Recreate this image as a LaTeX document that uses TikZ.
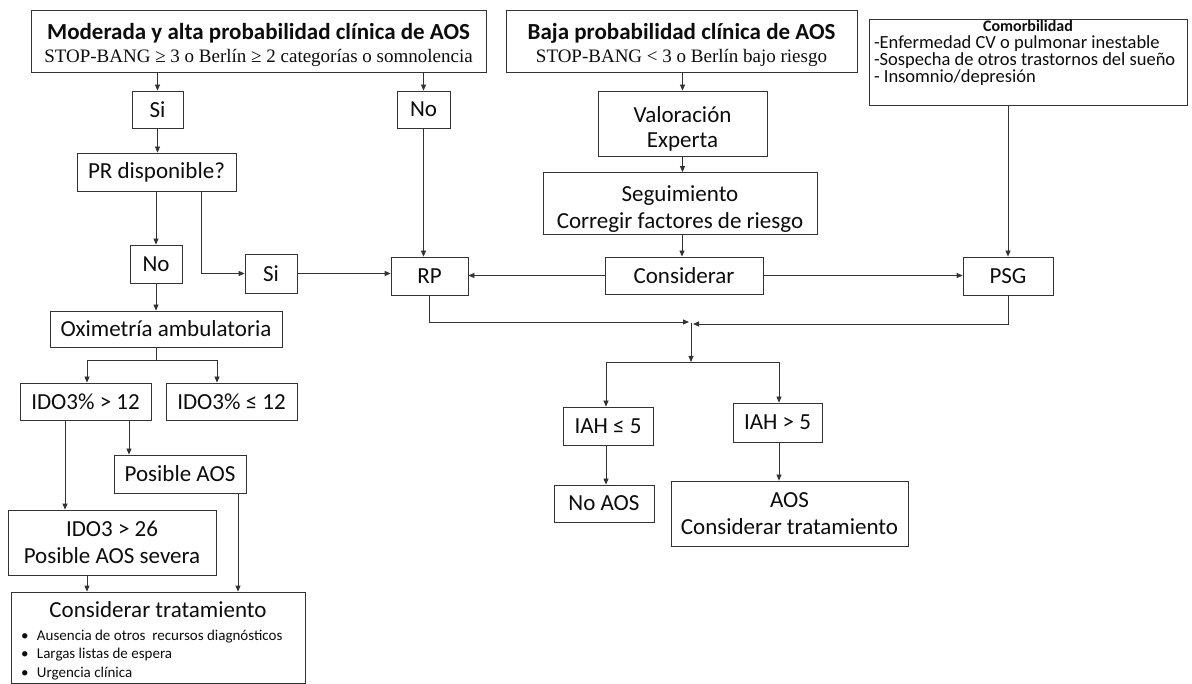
\documentclass[tikz,border=0pt]{standalone}
\usepackage{fontspec}
\setmainfont{Carlito}
\newfontfamily\tnr{Liberation Serif}
\usetikzlibrary{arrows.meta}
\tikzset{
  box/.style={draw=black!80, line width=0.8pt, inner sep=2pt, align=center,
    font=\fontsize{23}{27}\selectfont, text=black!95},
  conn/.style={draw=black!80, line width=0.8pt},
  arr/.style={conn, -{Triangle[length=6pt,width=5pt]}},
}
\newcommand{\pushdown}[1]{\rule{0pt}{#1}}
\begin{document}
\begin{tikzpicture}[x=1pt,y=-1pt]
\useasboundingbox[fill=white] (0,0) rectangle (1192,684);

% top row
\node[box, minimum width=455pt, minimum height=62pt] (mod) at (258.5,41)
  {\pushdown{25pt}{\bfseries Moderada y alta probabilidad clínica de AOS}\\[-4pt]
   {\tnr\fontsize{19}{22}\selectfont STOP-BANG ≥ 3 o Berlín ≥ 2 categorías o somnolencia}};
\node[box, minimum width=351pt, minimum height=62pt] (baja) at (681.5,41)
  {\pushdown{25pt}{\bfseries Baja probabilidad clínica de AOS}\\[-4pt]
   {\tnr\fontsize{19}{22}\selectfont STOP-BANG < 3 o Berlín bajo riesgo}};
\node[box, minimum width=318pt, minimum height=86pt, inner sep=0pt] (comor) at (1028,62)
  {\parbox[c][84pt][t]{308pt}{\centering{\bfseries\fontsize{16}{17}\selectfont Comorbilidad}\par
   \raggedright\fontsize{18.5}{17}\selectfont -Enfermedad CV o pulmonar inestable\\
   -Sospecha de otros trastornos del sueño\\
   - Insomnio/depresión}};

% left branch
\node[box, minimum width=51pt, minimum height=37pt] (si1) at (157.5,109.5) {Si};
\node[box, minimum width=53pt, minimum height=37pt] (no1) at (423.5,109.5) {No};
\node[box, minimum width=159pt, minimum height=38pt] (pr) at (156.5,172) {PR disponible?};
\node[box, minimum width=52pt, minimum height=38pt] (no2) at (156,264) {No};
\node[box, minimum width=52pt, minimum height=39pt] (si2) at (271,273.5) {Si};
\node[box, minimum width=232pt, minimum height=36pt] (oxi) at (166,329) {Oximetría ambulatoria};
\node[box, minimum width=131pt, minimum height=37pt] (ido1) at (85.5,401.5) {IDO3\% > 12};
\node[box, minimum width=131pt, minimum height=37pt] (ido2) at (231.5,401.5) {IDO3\% ≤ 12};
\node[box, minimum width=132pt, minimum height=38pt] (posaos) at (180,474) {Posible AOS};
\node[box, minimum width=208pt, minimum height=65pt] (ido3) at (112,542.5)
  {IDO3 > 26\\Posible AOS severa};
\node[box, minimum width=294pt, minimum height=91pt, inner sep=0pt] (ctrat) at (158,637.5)
  {\parbox[c][87pt][t]{282pt}{\vspace*{8pt}\centering{\fontsize{23}{24}\selectfont Considerar tratamiento}\par
   \vspace{4pt}\raggedright\fontsize{15}{18.5}\selectfont
   \makebox[20pt][l]{\hspace{4pt}•}Ausencia de otros\ \ recursos diagnósticos\\
   \makebox[20pt][l]{\hspace{4pt}•}Largas listas de espera\\
   \makebox[20pt][l]{\hspace{4pt}•}Urgencia clínica}};

% middle / right
\node[box, minimum width=169pt, minimum height=65pt] (val) at (682.5,123.5)
  {\pushdown{27pt}Valoración\\[-2pt]Experta};
\node[box, minimum width=274pt, minimum height=59pt] (seg) at (680,203.5)
  {\pushdown{27pt}Seguimiento\\Corregir factores de riesgo};
\node[box, minimum width=77pt, minimum height=38pt] (rp) at (429.5,276) {RP};
\node[box, minimum width=158pt, minimum height=37pt] (cons) at (684,275.5) {Considerar};
\node[box, minimum width=90pt, minimum height=38pt] (psg) at (1008,276) {PSG};
\node[box, minimum width=90pt, minimum height=38pt] (iah1) at (608,426) {IAH ≤ 5};
\node[box, minimum width=89pt, minimum height=39pt] (iah2) at (777.5,422.5) {IAH > 5};
\node[box, minimum width=100pt, minimum height=37pt] (noaos) at (604,503.5) {No AOS};
\node[box, minimum width=237pt, minimum height=65pt] (aos) at (789.5,513.5)
  {AOS\\Considerar tratamiento};

% helper coordinates
\coordinate (prx) at (201,0);
\coordinate (ob) at (156,360);
\coordinate (obl) at (87,360);
\coordinate (obr) at (217,360);
\coordinate (c65) at (65,0);
\coordinate (c129) at (129,0);
\coordinate (c238) at (238,0);
\coordinate (c87) at (87,0);
\coordinate (c682) at (682,0);
\coordinate (jl) at (689,322);
\coordinate (jr) at (693,324);
\coordinate (jc) at (691,323);
\coordinate (jb) at (691,362);
\coordinate (bl) at (606,362);
\coordinate (br) at (779,362);

% connectors
\draw[arr] (mod.south -| si1) -- (si1.north);
\draw[arr] (mod.south -| no1) -- (no1.north);
\draw[arr] (si1.south) -- (si1.south |- pr.north);
\draw[arr] (pr.south -| no2) -- (no2.north);
\draw[arr] (pr.south -| prx) |- (si2.west);
\draw[arr] (si2.east) -- (si2.east -| rp.west);
\draw[arr] (no1.south) -- (no1.south |- rp.north);
\draw[arr] (no2.south) -- (no2.south |- oxi.north);
\draw[conn] (oxi.south -| ob) -- (ob);
\draw[conn] (obl) -- (obr);
\draw[arr] (obl) -- (obl |- ido1.north);
\draw[arr] (obr) -- (obr |- ido2.north);
\draw[arr] (ido1.south -| c65) -- (c65 |- ido3.north);
\draw[arr] (ido1.south -| c129) -- (c129 |- posaos.north);
\draw[arr] (posaos.south -| c238) -- (c238 |- ctrat.north);
\draw[arr] (ido3.south -| c87) -- (c87 |- ctrat.north);

\draw[arr] (baja.south -| val) -- (val.north);
\draw[arr] (val.south) -- (val.south |- seg.north);
\draw[arr] (seg.south -| c682) -- (c682 |- cons.north);
\draw[arr] (cons.west) -- (cons.west -| rp.east);
\draw[arr] (cons.east) -- (cons.east -| psg.west);
\draw[arr] (comor.south -| psg) -- (psg.north);
\draw[arr] (rp.south) |- (jl);
\draw[arr] (psg.south) |- (jr);
\draw[arr] (jc) -- (jb);
\draw[conn] (bl) -- (br);
\draw[arr] (bl) -- (bl |- iah1.north);
\draw[arr] (br) -- (br |- iah2.north);
\draw[arr] (iah1.south -| bl) -- (bl |- noaos.north);
\draw[arr] (iah2.south -| br) -- (br |- aos.north);
\end{tikzpicture}
\end{document}
